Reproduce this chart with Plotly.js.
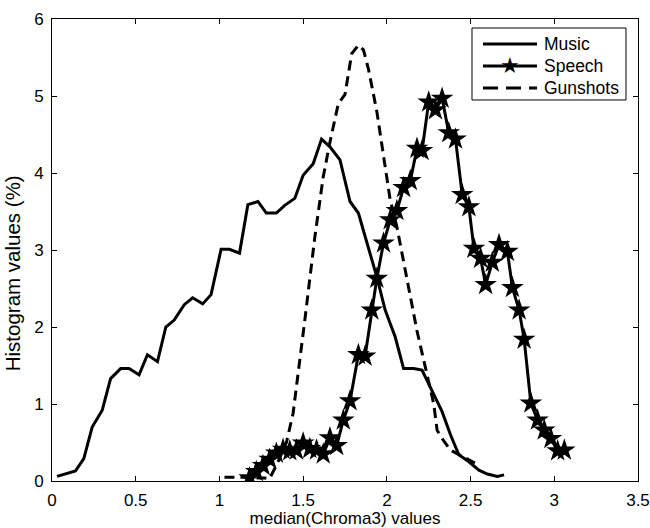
<!DOCTYPE html>
<html>
<head>
<meta charset="utf-8">
<script src="https://cdn.plot.ly/plotly-3.0.1.min.js"></script>
<style>html,body{margin:0;padding:0;background:#fff;}#chart{width:650px;height:528px;}</style>
</head>
<body>
<div id="chart"></div>
<script>
const musicX = [0.03,0.08,0.14,0.19,0.24,0.30,0.35,0.41,0.46,0.52,0.57,0.63,0.68,0.73,0.79,0.84,0.90,0.95,1.01,1.06,1.12,1.17,1.23,1.28,1.34,1.39,1.45,1.50,1.56,1.61,1.66,1.72,1.78,1.83,1.89,1.94,1.99,2.05,2.10,2.16,2.21,2.27,2.33,2.38,2.43,2.49,2.55,2.60,2.66,2.70];
const musicY = [0.06,0.09,0.13,0.29,0.70,0.92,1.33,1.46,1.46,1.38,1.64,1.55,2.00,2.09,2.29,2.38,2.30,2.42,3.01,3.01,2.96,3.59,3.63,3.48,3.48,3.58,3.67,3.97,4.12,4.44,4.34,4.17,3.63,3.48,3.04,2.65,2.22,1.87,1.46,1.46,1.44,1.16,0.90,0.60,0.34,0.25,0.14,0.09,0.06,0.08];

const speechX = [1.18,1.22,1.26,1.30,1.34,1.38,1.42,1.46,1.50,1.54,1.58,1.62,1.66,1.70,1.74,1.78,1.83,1.87,1.91,1.94,1.98,2.02,2.06,2.10,2.14,2.18,2.21,2.25,2.29,2.33,2.37,2.41,2.45,2.49,2.52,2.56,2.59,2.63,2.67,2.72,2.75,2.79,2.82,2.86,2.90,2.94,2.98,3.02,3.06];
const speechY = [0.04,0.12,0.20,0.28,0.36,0.41,0.39,0.40,0.49,0.42,0.40,0.35,0.56,0.46,0.79,1.04,1.64,1.62,2.22,2.63,3.09,3.39,3.51,3.81,3.90,4.32,4.29,4.92,4.82,4.97,4.52,4.44,3.72,3.56,3.02,2.89,2.55,2.84,3.07,2.98,2.51,2.22,1.84,1.01,0.79,0.66,0.55,0.39,0.40];

const gunX = [1.03,1.08,1.13,1.18,1.23,1.27,1.30,1.35,1.40,1.44,1.51,1.57,1.62,1.66,1.71,1.75,1.79,1.83,1.86,1.89,1.94,1.98,2.02,2.06,2.10,2.14,2.18,2.22,2.26,2.28,2.30,2.34,2.38,2.45,2.53];
const gunY = [0.05,0.05,0.05,0.05,0.04,0.04,0.03,0.25,0.50,0.88,2.09,3.17,3.95,4.40,4.90,5.02,5.55,5.66,5.60,5.35,4.80,4.20,3.65,3.30,2.85,2.40,1.95,1.57,1.20,1.00,0.66,0.52,0.40,0.32,0.23];

const seriesNames = ['Music','Speech','Gunshots'];
const xTitle = 'median(Chroma3) values';
const yTitle = 'Histogram values (%)';

const FONT = 'Liberation Sans, Arial, Helvetica, sans-serif';
const GUN_DASH = '10px,6px';

const traces = [
  {x: musicX, y: musicY, name: seriesNames[0], mode: 'lines', type: 'scatter',
   line: {color: '#000', width: 3}},
  {x: speechX, y: speechY, name: seriesNames[1], mode: 'lines+markers', type: 'scatter',
   line: {color: '#000', width: 3},
   marker: {symbol: 'star', size: 17, color: '#000', line: {width: 0}}},
  {x: gunX, y: gunY, name: seriesNames[2], mode: 'lines', type: 'scatter',
   line: {color: '#000', width: 3, dash: GUN_DASH}}
];

const axisCommon = {
  showgrid: false, zeroline: false, showline: true, linecolor: '#000', linewidth: 1,
  mirror: 'ticks', ticks: 'inside', ticklen: 5, tickcolor: '#000', tickwidth: 1,
  tickfont: {family: FONT, size: 17, color: '#000'}
};

// Legend (MATLAB-style box) built in paper coordinates of the plot area
const LEG = {x0: 0.7167, x1: 0.9795, y0: 0.8247, y1: 0.9805,
             lineX0: 0.7355, lineX1: 0.8276, textX: 0.8362,
             rows: [0.9459, 0.8983, 0.8506]};
const legendDashes = ['solid', 'solid', '15px,8px'];

const shapes = [{
  type: 'rect', xref: 'paper', yref: 'paper',
  x0: LEG.x0, x1: LEG.x1, y0: LEG.y0, y1: LEG.y1,
  line: {color: '#000', width: 1}, fillcolor: '#fff', layer: 'above'
}];
const annotations = [{
  text: yTitle, xref: 'paper', yref: 'y', x: -0.068, y: 2.7,
  xanchor: 'center', yanchor: 'middle', textangle: -90, showarrow: false,
  font: {family: FONT, size: 20.5, color: '#000'}
}];
seriesNames.forEach((nm, i) => {
  shapes.push({type: 'line', xref: 'paper', yref: 'paper',
    x0: LEG.lineX0, x1: LEG.lineX1, y0: LEG.rows[i], y1: LEG.rows[i],
    line: {color: '#000', width: 3, dash: legendDashes[i]}, layer: 'above'});
  annotations.push({text: nm, xref: 'paper', yref: 'paper', x: LEG.textX, y: LEG.rows[i],
    xanchor: 'left', yanchor: 'middle', showarrow: false,
    font: {family: FONT, size: 17.5, color: '#000'}});
});
annotations.push({text: '\u2605', xref: 'paper', yref: 'paper',
  x: (LEG.lineX0 + LEG.lineX1) / 2, y: LEG.rows[1],
  xanchor: 'center', yanchor: 'middle', showarrow: false,
  font: {family: 'DejaVu Sans', size: 22, color: '#000'}});

const layout = {
  width: 650, height: 528,
  paper_bgcolor: '#fff', plot_bgcolor: '#fff',
  margin: {l: 52, r: 12, t: 19, b: 47},
  showlegend: false,
  xaxis: Object.assign({}, axisCommon, {
    range: [0, 3.5], dtick: 0.5, tick0: 0, ticklabelstandoff: 4,
    title: {text: xTitle, font: {family: FONT, size: 17, color: '#000'}, standoff: 3}
  }),
  yaxis: Object.assign({}, axisCommon, {
    range: [0, 6], dtick: 1, tick0: 0, ticklabelstandoff: 4
  }),
  shapes: shapes,
  annotations: annotations
};

Plotly.newPlot('chart', traces, layout, {displayModeBar: false, staticPlot: true});
</script>
</body>
</html>
